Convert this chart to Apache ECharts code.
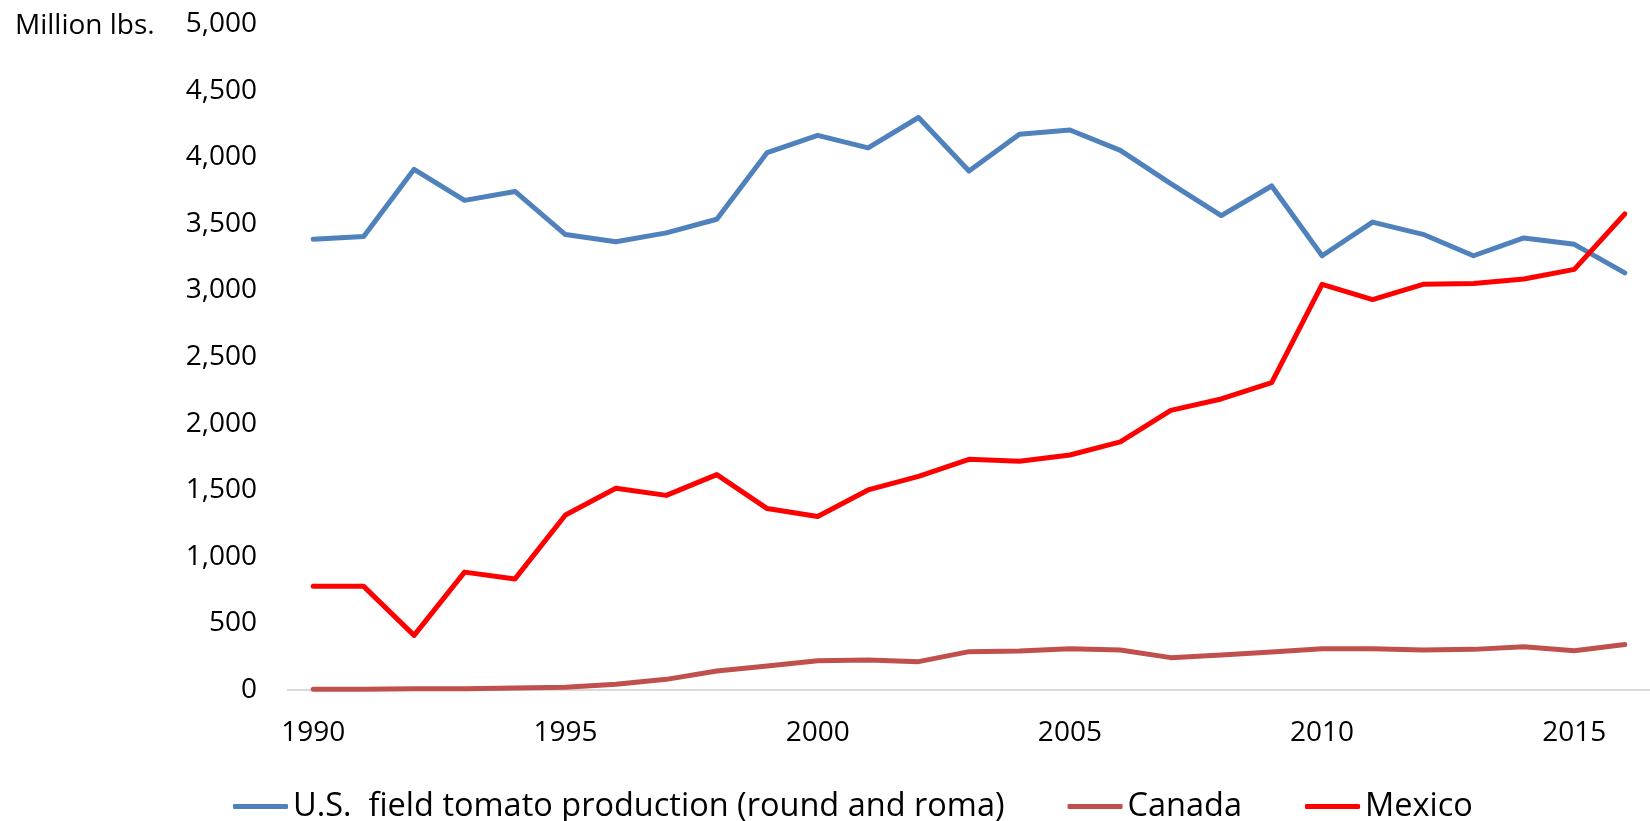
<!DOCTYPE html>
<html>
<head>
<meta charset="utf-8">
<title>Tomato production</title>
<script src="https://cdn.jsdelivr.net/npm/echarts@6/dist/echarts.min.js"></script>
<style>
    html, body { margin: 0; padding: 0; background: #fff; }
    #chart { width: 1650px; height: 821px; }
</style>
</head>
<body>
<div id="chart"></div>
<script>
var years = [
    '1990', '1991', '1992', '1993', '1994', '1995', '1996', '1997', '1998',
    '1999', '2000', '2001', '2002', '2003', '2004', '2005', '2006', '2007',
    '2008', '2009', '2010', '2011', '2012', '2013', '2014', '2015', '2016'
];
// million lbs
var usField = [
    3384, 3405, 3909, 3676, 3743, 3419, 3365, 3432, 3534,
    4035, 4164, 4070, 4298, 3896, 4172, 4204, 4051, 3802,
    3561, 3784, 3260, 3513, 3421, 3260, 3394, 3346, 3131
];
var canada = [
    5, 5, 10, 10, 15, 20, 43, 80, 143,
    180, 220, 225, 213, 288, 293, 310, 300, 243,
    263, 285, 310, 310, 300, 305, 325, 295, 342
];
var mexico = [
    778, 778, 410, 885, 834, 1314, 1515, 1461, 1617,
    1362, 1303, 1502, 1604, 1732, 1718, 1764, 1863, 2099,
    2185, 2308, 3046, 2931, 3046, 3051, 3086, 3158, 3574
];
var seriesNames = ['U.S.  field tomato production (round and roma)', 'Canada', 'Mexico'];
var yTicks = { min: 0, max: 5000, step: 500 };

var font = 'Open Sans';

function lineSeries(name, data, color, width) {
    return {
        name: name,
        type: 'line',
        data: data,
        symbol: 'none',
        color: color,
        lineStyle: { color: color, width: width, cap: 'round', join: 'round' },
        emphasis: { disabled: true }
    };
}

var chart = echarts.init(document.getElementById('chart'));
var option = {
    animation: false,
    backgroundColor: '#fff',
    textStyle: { fontFamily: font },
    title: {
        text: 'Million lbs.',
        left: 15,
        top: 12,
        padding: 0,
        textStyle: { fontFamily: font, fontSize: 28, fontWeight: 'normal', color: '#000' }
    },
    grid: { left: 288, right: -18, top: 24, bottom: 131 },
    legend: {
        left: 233,
        top: 790,
        padding: 0,
        itemWidth: 55,
        itemHeight: 5,
        itemGap: 63,
        icon: 'roundRect',
        data: seriesNames,
        textStyle: { fontFamily: font, fontSize: 32.5, color: '#000' }
    },
    xAxis: {
        type: 'category',
        data: years,
        boundaryGap: true,
        axisLine: { lineStyle: { color: '#d9d9d9', width: 2 } },
        axisTick: { show: false },
        axisLabel: {
            interval: function (index, value) { return Number(value) % 5 === 0; },
            margin: 29,
            fontFamily: font,
            fontSize: 28,
            color: '#000'
        },
        splitLine: { show: false }
    },
    yAxis: {
        type: 'value',
        min: yTicks.min,
        max: yTicks.max,
        interval: yTicks.step,
        axisLine: { show: false },
        axisTick: { show: false },
        splitLine: { show: false },
        axisLabel: {
            margin: 31,
            fontFamily: font,
            fontSize: 28,
            color: '#000',
            formatter: function (v) { return v.toLocaleString('en-US'); }
        }
    },
    series: [
        lineSeries(seriesNames[0], usField, '#4F81BD', 5),
        lineSeries(seriesNames[1], canada, '#C0504D', 5),
        lineSeries(seriesNames[2], mexico, '#FF0000', 5)
    ]
};
chart.setOption(option);
</script>
</body>
</html>
